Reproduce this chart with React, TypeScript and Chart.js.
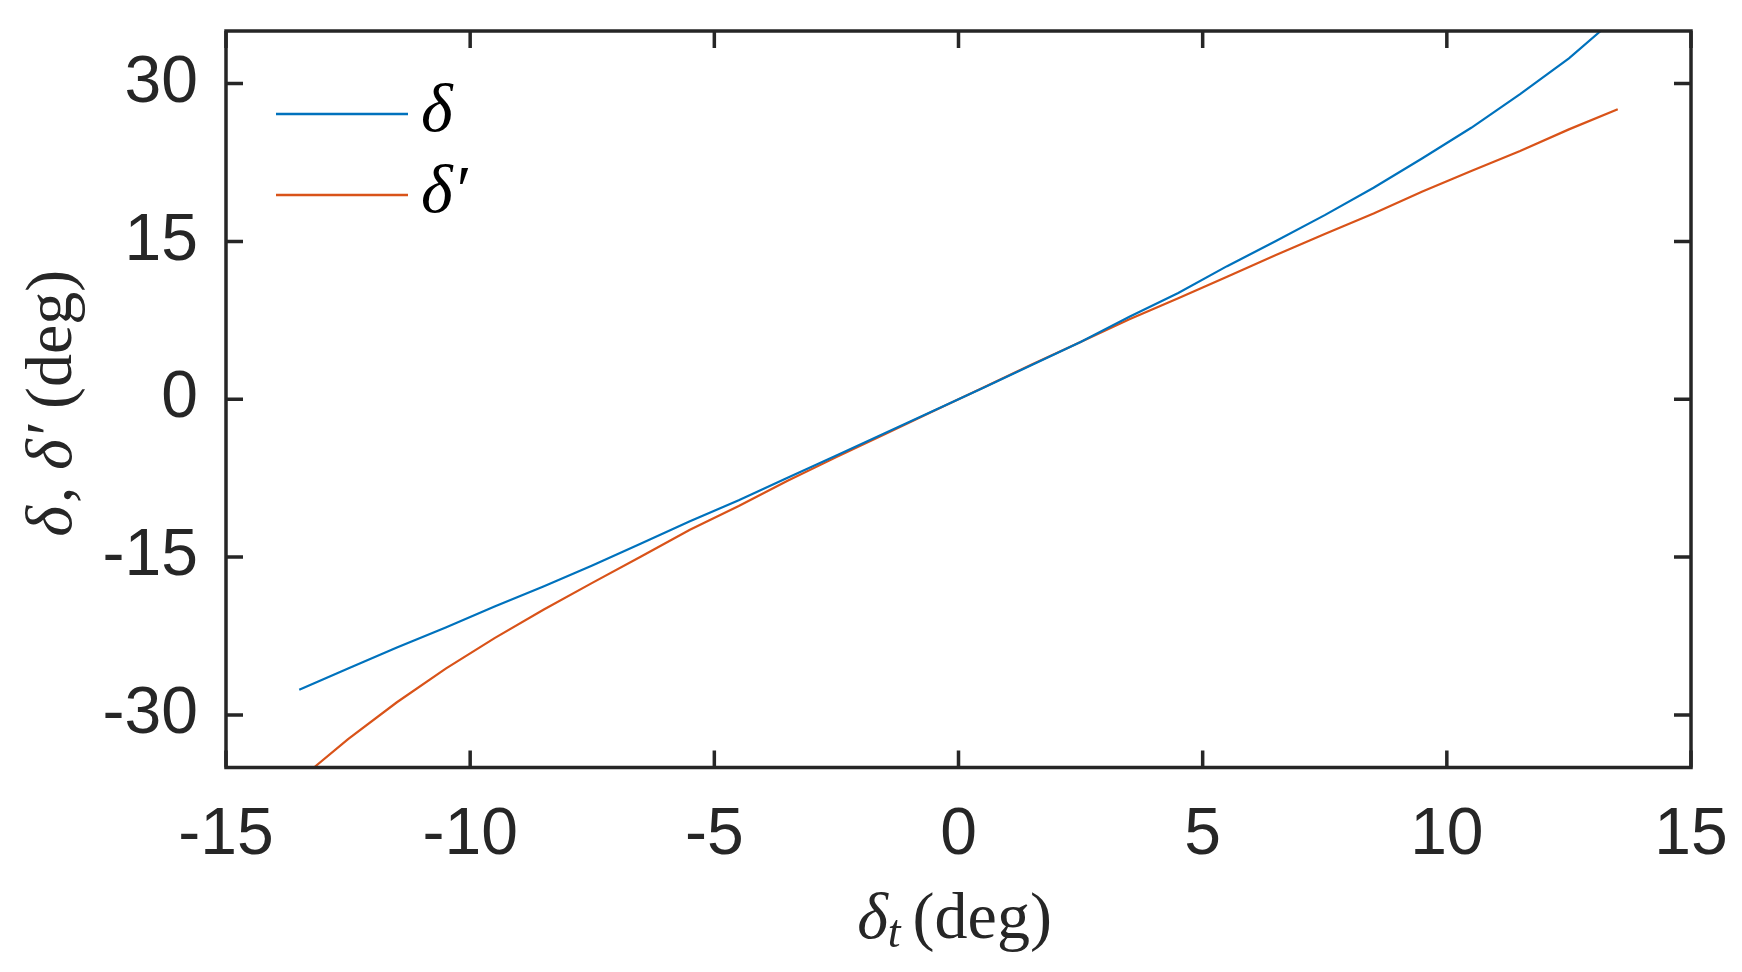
import React, { useEffect, useRef } from 'react';
import { Chart, registerables } from 'chart.js';

Chart.register(...registerables);

// ---- data ----
const deltaX = [-13.5, -12.5, -11.5, -10.5, -9.5, -8.5, -7.5, -6.5, -5.5, -4.5, -3.5, -2.5, -1.5, -0.5, 0, 0.5, 1.5, 2.5, 3.5, 4.5, 5.5, 6.5, 7.5, 8.5, 9.5, 10.5, 11.5, 12.5, 13.15];
const deltaY = [-27.6, -25.6, -23.6, -21.7, -19.7, -17.8, -15.8, -13.7, -11.6, -9.6, -7.45, -5.35, -3.2, -1.07, 0, 1.08, 3.25, 5.45, 7.85, 10.1, 12.65, 15.05, 17.5, 20.1, 22.9, 25.8, 29.0, 32.4, 35.0];

const deltaPrimeX = [-13.2, -12.5, -11.5, -10.5, -9.5, -8.5, -7.5, -6.5, -5.5, -4.5, -3.5, -2.5, -1.5, -0.5, 0, 0.5, 1.5, 2.5, 3.5, 4.5, 5.5, 6.5, 7.5, 8.5, 9.5, 10.5, 11.5, 12.5, 13.5];
const deltaPrimeY = [-35, -32.3, -28.8, -25.6, -22.7, -20.0, -17.45, -14.95, -12.4, -10.15, -7.75, -5.5, -3.3, -1.1, 0, 1.1, 3.3, 5.45, 7.6, 9.6, 11.65, 13.7, 15.7, 17.65, 19.75, 21.7, 23.6, 25.65, 27.56];

const xTicks = [-15, -10, -5, 0, 5, 10, 15];
const yTicks = [-30, -15, 0, 15, 30];
const xRange = [-15, 15];
const yRange = [-35, 35];
const seriesNames = ['δ', 'δ′'];
const seriesColors = ['#0072BD', '#D95319'];

const AXIS = '#262626';
const SERIF = '"Liberation Serif", "DejaVu Serif", serif';
const SANS = '"Liberation Sans", Arial, sans-serif';

type Seg = { text: string; font: string; dy?: number; gap?: number };

function drawSegs(ctx: CanvasRenderingContext2D, segs: Seg[], x: number, y: number, align: 'left' | 'center') {
  const widths = segs.map((s) => {
    ctx.font = s.font;
    return ctx.measureText(s.text).width + (s.gap || 0);
  });
  const total = widths.reduce((a, b) => a + b, 0);
  let cx = align === 'center' ? x - total / 2 : x;
  ctx.textAlign = 'left';
  ctx.textBaseline = 'alphabetic';
  segs.forEach((s, i) => {
    ctx.font = s.font;
    ctx.fillText(s.text, cx, y + (s.dy || 0));
    cx += widths[i];
  });
}

const decorPlugin = {
  id: 'matlabDecor',
  afterDraw(chart: any) {
    const { ctx, chartArea } = chart;
    const { left, right, top, bottom } = chartArea;
    const xs = chart.scales.x;
    const ys = chart.scales.y;
    ctx.save();
    // frame
    ctx.strokeStyle = AXIS;
    ctx.lineWidth = 3.5;
    ctx.lineCap = 'square';
    ctx.strokeRect(left, top, right - left, bottom - top);
    // inward ticks on all sides
    const tl = 17;
    ctx.beginPath();
    xTicks.forEach((v) => {
      const px = xs.getPixelForValue(v);
      ctx.moveTo(px, bottom);
      ctx.lineTo(px, bottom - tl);
      ctx.moveTo(px, top);
      ctx.lineTo(px, top + tl);
    });
    yTicks.forEach((v) => {
      const py = ys.getPixelForValue(v);
      ctx.moveTo(left, py);
      ctx.lineTo(left + tl, py);
      ctx.moveTo(right, py);
      ctx.lineTo(right - tl, py);
    });
    ctx.lineCap = 'butt';
    ctx.stroke();

    // legend
    const legendItems = chart.data.datasets.map((d: any) => ({ name: d.label, color: d.borderColor }));
    const lx0 = left + 50;
    const lx1 = left + 182;
    const rows = [top + 83, top + 164];
    legendItems.forEach((it: any, i: number) => {
      ctx.strokeStyle = it.color;
      ctx.lineWidth = 2.4;
      ctx.beginPath();
      ctx.moveTo(lx0, rows[i]);
      ctx.lineTo(lx1, rows[i]);
      ctx.stroke();
      ctx.fillStyle = '#000';
      drawSegs(ctx, [{ text: it.name, font: `italic 68px ${SERIF}` }], lx1 + 13, rows[i] + 17, 'left');
    });

    // axis titles
    ctx.fillStyle = AXIS;
    const cxMid = (left + right) / 2 - 4;
    drawSegs(
      ctx,
      [
        { text: 'δ', font: `italic 66px ${SERIF}` },
        { text: 't', font: `italic 46px ${SERIF}`, dy: 9, gap: 12 },
        { text: '(deg)', font: `66px ${SERIF}` },
      ],
      cxMid,
      938,
      'center'
    );
    ctx.save();
    ctx.translate(71, (top + bottom) / 2 + 4);
    ctx.rotate(-Math.PI / 2);
    drawSegs(
      ctx,
      [
        { text: 'δ', font: `italic 66px ${SERIF}`, gap: 3 },
        { text: ', ', font: `66px ${SERIF}` },
        { text: 'δ′', font: `italic 66px ${SERIF}`, gap: 16 },
        { text: '(deg)', font: `66px ${SERIF}` },
      ],
      0,
      0,
      'center'
    );
    ctx.restore();
    ctx.restore();
  },
};

function zeroPadding(s: any) {
  s.paddingTop = 0;
  s.paddingBottom = 0;
  s.paddingLeft = 0;
  s.paddingRight = 0;
}

export default function App() {
  const ref = useRef<HTMLCanvasElement | null>(null);
  useEffect(() => {
    if (!ref.current) return;
    const chart = new Chart(ref.current, {
      type: 'line',
      data: {
        datasets: [
          {
            label: seriesNames[0],
            data: deltaX.map((x, i) => ({ x, y: deltaY[i] })),
            borderColor: seriesColors[0],
            borderWidth: 2.2,
            pointRadius: 0,
            tension: 0,
            fill: false,
          },
          {
            label: seriesNames[1],
            data: deltaPrimeX.map((x, i) => ({ x, y: deltaPrimeY[i] })),
            borderColor: seriesColors[1],
            borderWidth: 2.2,
            pointRadius: 0,
            tension: 0,
            fill: false,
          },
        ],
      },
      options: {
        animation: false,
        responsive: false,
        events: [],
        layout: { padding: { top: 31, right: 51, left: 0, bottom: 0 } },
        plugins: { legend: { display: false }, tooltip: { enabled: false }, title: { display: false } },
        scales: {
          x: {
            type: 'linear',
            min: xRange[0],
            max: xRange[1],
            grid: { display: false, drawTicks: false },
            border: { display: false },
            afterBuildTicks: (s: any) => {
              s.ticks = xTicks.map((v) => ({ value: v }));
            },
            afterFit: (s: any) => {
              s.height = 972 - 767.5;
              zeroPadding(s);
            },
            ticks: {
              color: AXIS,
              font: { family: SANS, size: 66 },
              padding: 29,
              maxRotation: 0,
              autoSkip: false,
              callback: (v: any) => String(v),
            },
          },
          y: {
            type: 'linear',
            min: yRange[0],
            max: yRange[1],
            grid: { display: false, drawTicks: false },
            border: { display: false },
            afterBuildTicks: (s: any) => {
              s.ticks = yTicks.map((v) => ({ value: v }));
            },
            afterFit: (s: any) => {
              s.width = 226;
              zeroPadding(s);
            },
            ticks: {
              color: AXIS,
              font: { family: SANS, size: 66 },
              padding: 28,
              autoSkip: false,
              callback: (v: any) => String(v),
            },
          },
        },
      },
      plugins: [decorPlugin],
    });
    return () => chart.destroy();
  }, []);
  return (
    <div style={{ position: 'fixed', left: 0, top: 0, width: 1742, height: 972, background: '#fff' }}>
      <canvas ref={ref} width={1742} height={972} style={{ width: 1742, height: 972, display: 'block' }} />
    </div>
  );
}
